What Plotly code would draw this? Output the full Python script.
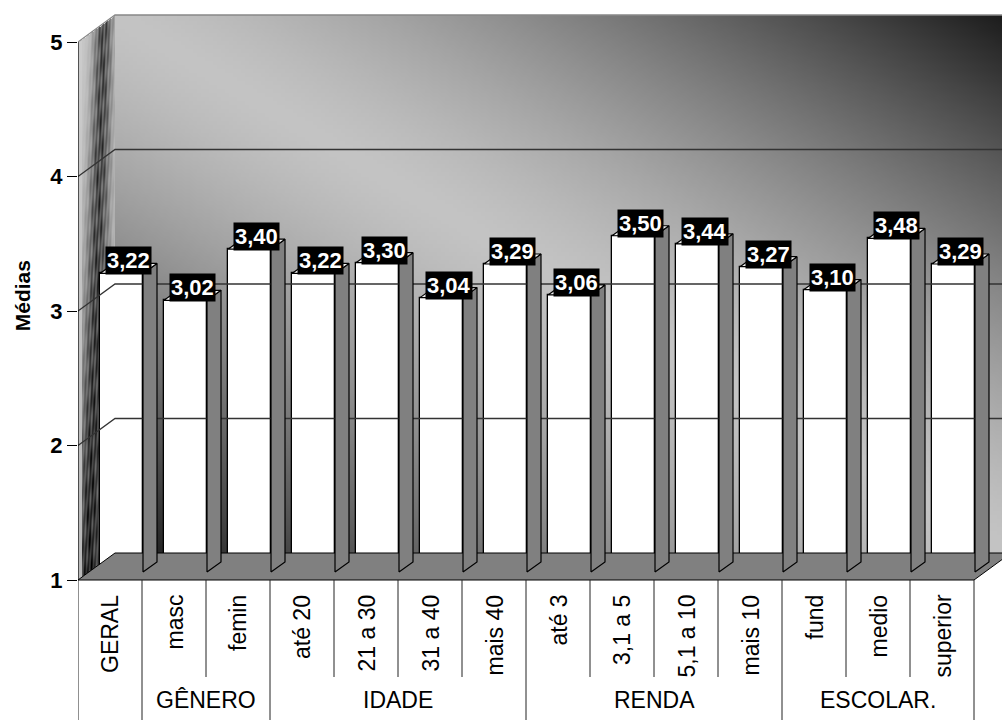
import base64, struct, zlib
import numpy as np
import plotly.graph_objects as go

# ---------------- data ----------------
categories = ["GERAL", "masc", "femin", "até 20", "21 a 30", "31 a 40", "mais 40",
              "até 3", "3,1 a 5", "5,1 a 10", "mais 10", "fund", "medio", "superior"]
values = [3.22, 3.02, 3.40, 3.22, 3.30, 3.04, 3.29, 3.06, 3.50, 3.44, 3.27, 3.10, 3.48, 3.29]
group_names = ["", "GÊNERO", "IDADE", "RENDA", "ESCOLAR."]
group_sizes = [1, 2, 4, 4, 3]
y_ticks = [1, 2, 3, 4, 5]
y_title = "Médias"

# ---------------- geometry (axis units) ----------------
PXX, PXY = 64.0, 134.5          # pixels per category / per value unit
DX, DY = 37 / PXX, 27 / PXY     # depth of the 3D box
BW = 43 / PXX                   # bar front width
BOX, BOY = 11.5 / PXX, 8 / PXY  # bar front-face offset (bars sit inside floor)
BDX, BDY = 14 / PXX, 10 / PXY   # bar depth
N = len(categories)
X0, X1 = -0.5, N - 0.5
YMIN, YMAX = y_ticks[0], y_ticks[-1]
FONT = "Arial, Liberation Sans, sans-serif"


def png_uri(arr):
    h, w, _ = arr.shape
    raw = b"".join(b"\x00" + arr[r].tobytes() for r in range(h))

    def chunk(t, d):
        return struct.pack(">I", len(d)) + t + d + struct.pack(">I", zlib.crc32(t + d) & 0xffffffff)

    png = (b"\x89PNG\r\n\x1a\n" + chunk(b"IHDR", struct.pack(">IIBBBBB", w, h, 8, 6, 0, 0, 0))
           + chunk(b"IDAT", zlib.compress(raw, 9)) + chunk(b"IEND", b""))
    return "data:image/png;base64," + base64.b64encode(png).decode()


# back wall: diagonal gradient, dark at top-right and bottom-left, light in the middle
bw_w, bw_h = 224, 135
u = (np.arange(bw_w) + 0.5) / bw_w
v = (np.arange(bw_h) + 0.5) / bw_h
U, V = np.meshgrid(u, v)
p = (U + (1 - V)) / 2
d = np.abs(p - 0.5) * 2
g = 196 - 170 * d ** 1.4
back = np.zeros((bw_h, bw_w, 4), dtype=np.uint8)
back[..., 0] = back[..., 1] = back[..., 2] = np.clip(g, 0, 255).astype(np.uint8)
back[..., 3] = 255

# left wall texture (parallelogram, alpha outside)
lw_w, lw_h = 37, 566
uu = np.arange(lw_w) + 0.5
vv = np.arange(lw_h) + 0.5
UU, VV = np.meshgrid(uu, vv)
t = UU / lw_w
hfrac = VV / lw_h
tc = 0.70 - 0.40 * hfrac
band = np.exp(-((t - tc) / (0.26 + 0.12 * hfrac)) ** 2)
streak = (np.sin(70 * t + 0.11 * VV) * 0.5 + np.sin(31 * t - 0.07 * VV) * 0.3
          + np.sin(9 * t + 0.23 * VV) * 0.2)
gray = 200 - 120 * band + 50 * band * streak - 40 * hfrac ** 2
gray = np.where(t < 0.12, 205 - 20 * hfrac, gray)
vt = 28 - 27 * UU / lw_w
vb = 566 - 27 * UU / lw_w
inside = (VV >= vt) & (VV <= vb)
left = np.zeros((lw_h, lw_w, 4), dtype=np.uint8)
left[..., 0] = left[..., 1] = left[..., 2] = np.clip(gray, 0, 255).astype(np.uint8)
left[..., 3] = np.where(inside, 255, 0).astype(np.uint8)

fig = go.Figure()

# floor
fig.add_trace(go.Scatter(
    x=[X0, X1, X1 + DX, X0 + DX, X0], y=[YMIN, YMIN, YMIN + DY, YMIN + DY, YMIN],
    mode="lines", fill="toself", fillcolor="#808080", line=dict(color="black", width=1),
    hoverinfo="skip", showlegend=False))

# gridlines on walls
for gv in y_ticks[1:]:
    col = "#888888" if gv == YMAX else "#333333"
    fig.add_trace(go.Scatter(
        x=[X0, X0 + DX, X1 + DX], y=[gv, gv + DY, gv + DY], mode="lines",
        line=dict(color=col, width=1.3), hoverinfo="skip", showlegend=False))

# bar side faces and top faces
sx, sy, tx, ty = [], [], [], []
for i, val in enumerate(values):
    xl = i + BOX - BW / 2
    xr = i + BOX + BW / 2
    yb = YMIN + BOY
    yt = val + BOY
    sx += [xr, xr + BDX, xr + BDX, xr, xr, None]
    sy += [yb, yb + BDY, yt + BDY, yt, yb, None]
    tx += [xl, xl + BDX, xr + BDX, xr, xl, None]
    ty += [yt, yt + BDY, yt + BDY, yt, yt, None]
fig.add_trace(go.Scatter(x=sx, y=sy, mode="lines", fill="toself", fillcolor="#808080",
                         line=dict(color="black", width=1.2), hoverinfo="skip", showlegend=False))
fig.add_trace(go.Scatter(x=tx, y=ty, mode="lines", fill="toself", fillcolor="#f2f2f2",
                         line=dict(color="black", width=1.2), hoverinfo="skip", showlegend=False))

# bar front faces
fig.add_trace(go.Bar(
    x=[i + BOX for i in range(N)], y=[val - YMIN for val in values], base=YMIN + BOY,
    width=BW, marker=dict(color="white", line=dict(color="black", width=1.3)),
    hoverinfo="skip", showlegend=False))

# y axis line
fig.add_trace(go.Scatter(x=[X0, X0], y=[YMIN, YMAX], mode="lines",
                         line=dict(color="black", width=1.2), hoverinfo="skip", showlegend=False))

# category table lines
bounds = [0]
for gs in group_sizes:
    bounds.append(bounds[-1] + gs)
for k in range(N + 1):
    ybot = -0.2 if k in bounds else YMIN - 97 / PXY
    fig.add_trace(go.Scatter(x=[X0 + k, X0 + k], y=[YMIN, ybot], mode="lines",
                             line=dict(color="#222222", width=1), hoverinfo="skip", showlegend=False))

annotations = []
for i, val in enumerate(values):
    annotations.append(dict(
        x=i + BOX + BDX / 2, y=val + BOY, xref="x", yref="y", yanchor="bottom", xanchor="center",
        text=f"{val:.2f}".replace(".", ","), showarrow=False, bgcolor="black", borderpad=1,
        yshift=-2, font=dict(family=FONT, size=22, color="white", weight="bold")))
for i, c in enumerate(categories):
    annotations.append(dict(
        x=i, y=YMIN - 13 / PXY, xref="x", yref="y", yanchor="top", xanchor="center",
        textangle=-90, text=c, showarrow=False,
        font=dict(family=FONT, size=23, color="black")))
for gi, gname in enumerate(group_names):
    if not gname:
        continue
    center = X0 + (bounds[gi] + bounds[gi + 1]) / 2
    annotations.append(dict(
        x=center, y=YMIN - 120 / PXY, xref="x", yref="y", yanchor="middle", xanchor="center",
        text=gname, showarrow=False, font=dict(family=FONT, size=23, color="black")))
annotations.append(dict(
    x=(22 - 78) / 924, y=3.11, xref="paper", yref="y", xanchor="center", yanchor="middle",
    textangle=-90, text=y_title, showarrow=False,
    font=dict(family=FONT, size=21, color="black", weight="bold")))

fig.update_layout(
    width=1002, height=720, margin=dict(l=78, r=0, t=0, b=0),
    paper_bgcolor="white", plot_bgcolor="rgba(0,0,0,0)",
    xaxis=dict(range=[X0, X0 + 924 / PXX], visible=False, fixedrange=True),
    yaxis=dict(range=[YMIN - 140 / PXY, YMAX + 42 / PXY], tickvals=y_ticks,
               ticktext=[str(tk) for tk in y_ticks], ticks="outside", ticklen=10,
               tickcolor="black", tickwidth=1, showgrid=False, zeroline=False, showline=False,
               tickfont=dict(family=FONT, size=22, color="black", weight="bold")),
    annotations=annotations,
    images=[
        dict(source=png_uri(back), xref="x", yref="y", x=X0 + DX, y=YMAX + DY,
             sizex=X1 - X0, sizey=YMAX - YMIN, sizing="stretch", layer="below",
             xanchor="left", yanchor="top"),
        dict(source=png_uri(left), xref="x", yref="y", x=X0, y=YMAX + DY,
             sizex=DX, sizey=YMAX - YMIN + DY, sizing="stretch", layer="below",
             xanchor="left", yanchor="top"),
    ],
    bargap=0, showlegend=False,
)

fig.write_html("out.html")
